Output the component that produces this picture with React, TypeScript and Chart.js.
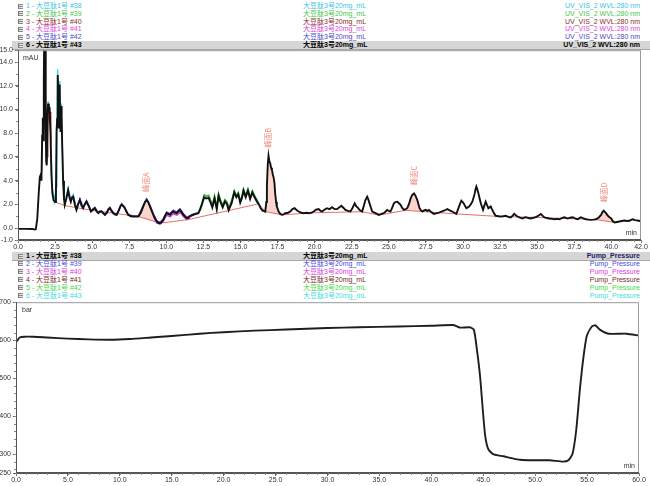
import React, { useEffect, useRef } from "react";
import { Chart, registerables } from "chart.js";

Chart.register(...registerables);

// ---------------- data ----------------
// UV trace of run #43 (black): [minutes, mAU]
const uvTrace: number[][] = [
  [0,-0.06],[0.5,-0.06],[1.0,-0.07],[1.12,-0.12],[1.2,-0.1],[1.3,0.8],[1.4,3.0],[1.47,4.3],[1.53,4.5],[1.58,4.0],
  [1.63,7.8],[1.67,9.3],[1.7,7.4],[1.74,12.5],[1.77,16.5],[1.84,16.5],[1.87,9.0],[1.9,5.6],[1.94,5.3],[1.99,9.6],
  [2.03,10.5],[2.08,9.7],[2.13,10.2],[2.19,8.0],[2.25,4.6],[2.32,2.9],[2.4,2.35],[2.5,2.2],[2.56,3.2],[2.6,8.2],
  [2.64,9.2],[2.68,12.9],[2.71,11.4],[2.74,8.4],[2.78,10.9],[2.81,12.1],[2.84,9.0],[2.87,8.1],[2.9,10.3],[2.94,9.4],
  [2.98,7.0],[3.04,4.0],[3.1,2.5],[3.15,1.96],[3.26,2.5],[3.38,3.2],[3.47,2.6],[3.56,2.23],[3.64,2.6],[3.72,2.65],
  [3.83,2.0],[3.94,1.54],[4.05,2.0],[4.17,2.37],[4.28,1.9],[4.39,1.68],[4.5,2.0],[4.62,2.23],[4.7,2.0],[4.78,1.82],
  [4.92,1.4],[5.05,1.55],[5.18,1.68],[5.3,1.4],[5.41,1.26],[5.52,1.4],[5.63,1.4],[5.75,1.25],[5.86,1.12],[6.0,1.3],
  [6.1,1.6],[6.19,1.68],[6.3,1.45],[6.42,1.26],[6.55,1.15],[6.65,1.12],[6.8,1.5],[6.92,1.9],[6.99,1.96],[7.1,1.85],
  [7.2,1.68],[7.3,1.4],[7.43,1.12],[7.6,1.0],[7.77,0.98],[7.95,0.98],[8.11,0.98],[8.28,1.3],[8.44,1.82],[8.56,2.2],
  [8.67,2.37],[8.78,2.2],[8.9,1.82],[9.0,1.5],[9.12,1.12],[9.25,0.8],[9.35,0.56],[9.46,0.45],[9.57,0.42],[9.68,0.5],
  [9.8,0.7],[9.9,1.0],[10.02,1.26],[10.13,1.2],[10.25,1.12],[10.36,1.3],[10.47,1.4],[10.58,1.3],[10.7,1.26],[10.8,1.4],
  [10.92,1.54],[11.03,1.35],[11.15,1.12],[11.27,0.95],[11.38,0.84],[11.48,0.88],[11.59,0.98],[11.7,1.05],[11.82,1.12],[12.0,1.2],
  [12.16,1.26],[12.28,1.55],[12.39,1.96],[12.55,2.6],[12.7,2.5],[12.85,2.55],[13.0,2.1],[13.1,1.75],[13.25,2.5],[13.4,1.6],
  [13.52,2.7],[13.65,2.2],[13.8,1.75],[13.95,2.25],[14.1,2.0],[14.2,1.5],[14.4,2.1],[14.58,3.0],[14.72,2.6],[14.85,2.85],
  [14.98,2.15],[15.1,2.55],[15.2,3.15],[15.35,2.6],[15.5,3.15],[15.65,2.45],[15.8,3.0],[15.95,2.6],[16.1,2.25],[16.22,2.05],
  [16.35,1.7],[16.47,1.5],[16.67,1.4],[16.74,2.2],[16.78,3.6],[16.84,5.4],[16.89,6.1],[16.95,5.6],[17.0,5.5],[17.06,5.1],
  [17.12,4.9],[17.18,4.5],[17.23,4.3],[17.29,3.8],[17.34,2.9],[17.4,2.2],[17.45,1.82],[17.57,1.4],[17.68,1.2],[17.8,1.12],
  [17.9,1.15],[18.02,1.26],[18.2,1.3],[18.36,1.4],[18.5,1.6],[18.65,1.68],[18.8,1.5],[18.92,1.4],[19.1,1.3],[19.26,1.26],
  [19.45,1.3],[19.6,1.26],[19.8,1.3],[19.93,1.4],[20.1,1.55],[20.27,1.6],[20.4,1.45],[20.5,1.4],[20.65,1.55],[20.83,1.68],
  [21.0,1.6],[21.17,1.77],[21.35,1.6],[21.51,1.6],[21.65,1.75],[21.8,1.88],[21.95,1.7],[22.07,1.54],[22.25,1.45],[22.41,1.4],
  [22.55,1.7],[22.7,2.09],[22.8,1.85],[22.93,1.68],[23.05,1.5],[23.2,1.4],[23.32,1.9],[23.42,2.37],[23.54,2.65],[23.62,2.4],
  [23.7,2.09],[23.8,1.7],[23.88,1.4],[24.1,1.26],[24.33,1.12],[24.5,1.2],[24.66,1.26],[24.78,1.4],[24.89,1.54],[25.0,1.45],
  [25.11,1.4],[25.22,1.7],[25.34,2.09],[25.45,2.2],[25.57,2.23],[25.68,2.1],[25.79,1.96],[25.9,1.7],[26.02,1.54],[26.13,1.6],
  [26.24,1.68],[26.35,2.0],[26.47,2.51],[26.58,2.8],[26.7,2.93],[26.81,2.7],[26.92,2.37],[27.0,2.0],[27.07,1.68],[27.17,1.5],
  [27.26,1.4],[27.38,1.5],[27.48,1.54],[27.6,1.45],[27.71,1.54],[27.85,1.35],[28.04,1.2],[28.2,1.25],[28.38,1.31],[28.55,1.4],
  [28.72,1.48],[28.85,1.55],[28.94,1.6],[29.1,1.5],[29.28,1.4],[29.42,1.3],[29.55,1.2],[29.64,1.5],[29.73,1.82],[29.82,2.1],
  [29.89,2.32],[29.98,2.2],[30.07,2.04],[30.15,1.85],[30.23,1.68],[30.32,1.75],[30.41,1.82],[30.52,2.0],[30.63,2.23],[30.72,2.6],
  [30.79,2.93],[30.85,3.3],[30.9,3.5],[30.97,3.25],[31.04,2.93],[31.12,2.5],[31.2,2.09],[31.28,1.8],[31.35,1.54],[31.44,1.9],
  [31.53,2.23],[31.62,1.95],[31.71,1.68],[31.79,1.75],[31.87,1.82],[31.95,1.6],[32.03,1.4],[32.12,1.2],[32.21,1.04],[32.4,1.0],
  [32.55,0.98],[32.7,1.0],[32.88,1.04],[33.05,0.95],[33.22,0.9],[33.35,1.05],[33.45,1.2],[33.56,1.08],[33.67,0.98],[33.85,0.88],
  [34.01,0.81],[34.12,0.88],[34.24,0.92],[34.4,0.85],[34.57,0.81],[34.75,0.88],[34.91,0.92],[35.08,1.05],[35.25,1.2],[35.36,1.05],
  [35.47,0.92],[35.65,0.85],[35.81,0.81],[36.0,0.78],[36.15,0.75],[36.32,0.78],[36.49,0.75],[36.66,0.85],[36.83,0.92],[36.95,0.86],
  [37.05,0.81],[37.22,0.88],[37.39,0.92],[37.55,0.82],[37.73,0.75],[37.85,0.85],[37.95,0.92],[38.12,0.82],[38.29,0.75],[38.45,0.72],
  [38.63,0.7],[38.8,0.72],[38.97,0.75],[39.15,0.9],[39.31,1.12],[39.4,1.35],[39.49,1.48],[39.56,1.38],[39.64,1.26],[39.73,1.1],
  [39.82,0.98],[39.9,0.9],[39.98,0.84],[40.1,0.6],[40.21,0.48],[40.38,0.52],[40.54,0.56],[40.7,0.6],[40.88,0.64],[41.05,0.6],
  [41.22,0.62],[41.33,0.7],[41.44,0.75],[41.6,0.68],[41.78,0.64],[41.92,0.6],[42.0,0.58]
];

// overlaid runs that peek out from under the black trace
const uvRun38: number[][] = [
  [1.95,5.6],[2.03,10.7],[2.1,10.0],[2.2,8.2],[2.3,3.5],[2.45,2.3],[2.58,3.5],[2.62,9.0],[2.67,13.4],[2.71,11.8],
  [2.76,9.0],[2.81,12.4],[2.86,9.2],[2.92,10.5],[2.98,7.2],[3.06,3.6],[3.15,2.1],[3.38,3.35],[3.56,2.35],[3.72,2.75],[3.94,1.65]
];
const uvRun40: number[][] = [
  [1.5,4.3],[1.6,4.8],[1.66,8.8],[1.72,8.0],[1.78,12.0],[1.85,10.8],[1.9,6.0],[1.96,6.0],[2.02,10.2],[2.1,9.2],[2.16,9.8],[2.22,7.2]
];
const uvRun42: number[][] = [
  [3.38,3.1],[3.56,2.3],[3.72,2.75],[3.94,1.6],[4.17,2.45],[4.39,1.75],[4.62,2.3],[4.78,1.9],[4.92,1.45],[5.18,1.75],
  [5.41,1.3],[5.63,1.45],[5.86,1.15],[6.19,1.75],[6.42,1.3],[6.65,1.15],[6.99,2.05],[7.2,1.75],[7.43,1.15],[7.77,1.0],
  [8.11,1.0],[8.44,1.9],[8.67,2.45],[8.9,1.9],[9.12,1.2],[9.35,0.62],[9.57,0.48],[9.8,0.78],[10.02,1.35],[10.25,1.2],
  [10.47,1.5],[10.7,1.35],[10.92,1.62],[11.15,1.2],[11.38,0.9],[11.59,1.05],[11.82,1.2],[12.16,1.3]
];
const uvRun41: number[][] = [
  [9.12,1.0],[9.35,0.45],[9.57,0.35],[9.8,0.6],[10.02,1.1],[10.25,0.95],[10.47,1.22],[10.7,1.1],[10.92,1.35],[11.15,0.98],
  [11.38,0.72],[11.59,0.85]
];
const uvRun39: number[][] = [
  [12.16,1.3],[12.39,2.05],[12.55,2.8],[12.7,2.7],[12.85,2.75],[13.0,2.3],[13.1,1.9],[13.25,2.7],[13.4,1.7],[13.52,2.9],
  [13.65,2.4],[13.8,1.9],[13.95,2.4],[14.1,2.2],[14.2,1.65],[14.4,2.3],[14.58,3.15],[14.72,2.75],[14.85,3.0],[14.98,2.3],
  [15.1,2.7],[15.2,3.3],[15.35,2.75],[15.5,3.3],[15.65,2.6],[15.8,3.15],[15.95,2.75],[16.1,2.4],[16.22,2.1]
];

// integration baseline (red)
const uvBaseline: number[][] = [
  [2.5,2.2],[3.15,1.9],[5.0,1.5],[8.11,0.98],[9.57,0.42],[11.48,0.72],[16.22,2.05],[16.67,1.4],[17.8,1.12],[20.0,1.3],
  [23.2,1.38],[24.33,1.1],[26.13,1.5],[27.26,1.4],[29.55,1.2],[32.21,1.0],[35.47,0.88],[39.0,0.72],[40.21,0.48]
];

const peakNames = ["峰面A", "峰面B", "峰面C", "峰面D"];
const peakStarts = [8.11, 16.67, 26.13, 39.0];
const peakEnds = [9.57, 17.8, 27.26, 40.21];

const uvXTicks = [0,2.5,5,7.5,10,12.5,15,17.5,20,22.5,25,27.5,30,32.5,35,37.5,40,42];
const uvYTicks = [-1,0,2,4,6,8,10,12,14,15];

// pump pressure of run #38: [minutes, bar]
const pressureTrace: number[][] = [
  [0,595],[0.15,600],[0.35,607],[0.8,609],[1.7,609],[3,607],[5,604],[7,602],[9,601],[11,603],
  [13,607],[15,611],[17.7,617],[20,621],[23,625],[26,628],[30,632],[33,634],[36.8,636],[40,638],
  [42.1,640],[42.5,636],[42.8,633],[43.7,634],[44.1,627],[44.4,573],[44.7,503],[44.96,415],[45.2,345],[45.5,312],
  [46.0,299],[46.95,294],[47.6,290],[48.55,285],[49.8,283.5],[51.4,283.5],[52.7,280],[53.2,283.5],[53.6,301],[53.95,362],
  [54.3,468],[54.65,555],[54.98,612],[55.46,636],[55.8,639],[56.26,627],[57.06,617],[58.8,617],[60,612]
];
const pressureXTicks = [0,5,10,15,20,25,30,35,40,45,50,55,60];
const pressureYTicks = [250,300,400,500,600,700];

const runLabels = ["1 - 大豆肽1号 #38","2 - 大豆肽1号 #39","3 - 大豆肽1号 #40","4 - 大豆肽1号 #41","5 - 大豆肽1号 #42","6 - 大豆肽1号 #43"];
const sampleName = "大豆肽3号20mg_mL";
const uvChannel = "UV_VIS_2 WVL:280 nm";
const pressureChannel = "Pump_Pressure";

// ---------------- styles ----------------
const FONT = '"Liberation Sans", Arial, "Noto Sans CJK SC", sans-serif';
const topLegendColors = ["#3cc4dc", "#44c844", "#8a2c2c", "#dc46dc", "#4a4ac8", "#000000"];
const bottomLegendColors = ["#000000", "#4a4ae0", "#dc3cdc", "#7a2a2a", "#4ad84a", "#40dce0"];
const bottomChannelColors = ["#1c1c66", "#4a4ae0", "#dc3cdc", "#7a2a2a", "#4ad84a", "#40dce0"];

const toXY = (arr: number[][]) => arr.map((p) => ({ x: p[0], y: p[1] }));

function drawFrameAndMinor(chart: any, xStep: number, xMax: number, yStep: number, yMin: number, yMax: number) {
  const { ctx, chartArea: a, scales } = chart;
  const x = scales.x, y = scales.y;
  ctx.save();
  ctx.strokeStyle = "#9a9a9a";
  ctx.lineWidth = 1;
  ctx.strokeRect(a.left + 0.5, a.top + 0.5, a.right - a.left - 1, a.bottom - a.top - 1);
  ctx.strokeStyle = "#555";
  ctx.beginPath();
  ctx.moveTo(a.left + 0.5, a.top); ctx.lineTo(a.left + 0.5, a.bottom);
  ctx.moveTo(a.left, a.bottom - 0.5); ctx.lineTo(a.right, a.bottom - 0.5);
  ctx.stroke();
  ctx.strokeStyle = "#888";
  ctx.beginPath();
  for (let v = 0; v <= xMax + 1e-9; v += xStep) {
    const px = Math.round(x.getPixelForValue(v)) + 0.5;
    ctx.moveTo(px, a.bottom); ctx.lineTo(px, a.bottom + 2);
  }
  for (let v = yMin; v <= yMax + 1e-9; v += yStep) {
    const py = Math.round(y.getPixelForValue(v)) + 0.5;
    ctx.moveTo(a.left - 2, py); ctx.lineTo(a.left, py);
  }
  ctx.stroke();
  ctx.restore();
}

function axisCommon(min: number, max: number, tickValues: number[], fmt: (v: number) => string, isY: boolean, size: number) {
  return {
    type: "linear" as const,
    min,
    max,
    afterBuildTicks: (s: any) => { s.ticks = tickValues.map((v) => ({ value: v })); },
    afterFit: (s: any) => { if (isY) s.width = size; else s.height = size; },
    ticks: {
      autoSkip: false,
      maxRotation: 0,
      padding: isY ? 2 : 0,
      color: "#333",
      font: { size: 7, family: FONT },
      callback: (v: any) => fmt(Number(v)),
    },
    grid: { drawOnChartArea: false, tickLength: 3, color: "#666" },
    border: { color: "#555" },
  };
}

function buildUvConfig(): any {
  const peakPolys = peakStarts.map((s, i) => {
    const e = peakEnds[i];
    const b0 = uvBaseline.find((p) => p[0] === s)!;
    const b1 = uvBaseline.find((p) => p[0] === e)!;
    const inside = uvTrace.filter((p) => p[0] > s && p[0] < e);
    return toXY([b0, ...inside, b1]);
  });
  const peakApex = peakStarts.map((s, i) => {
    const inside = uvTrace.filter((p) => p[0] >= s && p[0] <= peakEnds[i]);
    return inside.reduce((m, p) => (p[1] > m[1] ? p : m), inside[0]);
  });

  const line = (data: number[][], color: string, width: number) => ({
    data: toXY(data), borderColor: color, borderWidth: width, pointRadius: 0, fill: false, tension: 0,
  });

  const datasets: any[] = [
    line(uvTrace, "#111111", 1.9),
    line(uvRun40, "#b04040", 1.1),
    line(uvRun38, "#3cd0e8", 1.4),
    line(uvRun42, "#5a3cc8", 1.6),
    line(uvRun41, "#c840c8", 1.6),
    line(uvRun39, "#2ea82e", 1.6),
    line(uvBaseline, "#e0605a", 0.9),
    ...peakPolys.map((poly) => ({
      data: poly, fill: "shape", backgroundColor: "rgba(240,150,130,0.4)",
      borderColor: "rgba(0,0,0,0)", borderWidth: 1, pointRadius: 0, tension: 0,
    })),
  ];

  const decor = {
    id: "uvDecor",
    afterDatasetsDraw(chart: any) {
      const { ctx, chartArea: a, scales } = chart;
      ctx.save();
      ctx.fillStyle = "#f08a7a";
      ctx.font = `7.5px "Noto Sans CJK SC", ${FONT}`;
      ctx.textAlign = "left";
      ctx.textBaseline = "middle";
      peakApex.forEach((p, i) => {
        const px = scales.x.getPixelForValue(p[0]);
        const py = scales.y.getPixelForValue(p[1]);
        ctx.save();
        ctx.translate(px, py - 8);
        ctx.rotate(-Math.PI / 2);
        ctx.fillText(peakNames[i], 0, 0);
        ctx.restore();
      });
      ctx.fillStyle = "#333";
      ctx.font = `7px ${FONT}`;
      ctx.textBaseline = "top";
      ctx.fillText("mAU", a.left + 5, a.top + 4);
      ctx.textAlign = "right";
      ctx.textBaseline = "bottom";
      ctx.fillText("min", a.right - 4, a.bottom - 3);
      ctx.restore();
    },
    afterDraw(chart: any) {
      drawFrameAndMinor(chart, 0.5, 42, 1, -1, 15);
    },
  };

  return {
    type: "line",
    data: { datasets },
    plugins: [decor],
    options: {
      responsive: false,
      animation: false,
      devicePixelRatio: 1,
      layout: { padding: { top: 6, right: 9, left: 0, bottom: 0 } },
      plugins: { legend: { display: false }, tooltip: { enabled: false } },
      elements: { point: { radius: 0 } },
      scales: {
        x: axisCommon(0, 42, uvXTicks, (v) => v.toFixed(1), false, 12),
        y: axisCommon(-1, 15, uvYTicks, (v) => v.toFixed(1), true, 18),
      },
    },
  };
}

function buildPressureConfig(): any {
  const decor = {
    id: "prDecor",
    afterDatasetsDraw(chart: any) {
      const { ctx, chartArea: a } = chart;
      ctx.save();
      ctx.fillStyle = "#333";
      ctx.font = `7px ${FONT}`;
      ctx.textAlign = "left";
      ctx.textBaseline = "top";
      ctx.fillText("bar", a.left + 6, a.top + 4);
      ctx.textAlign = "right";
      ctx.textBaseline = "bottom";
      ctx.fillText("min", a.right - 4, a.bottom - 3);
      ctx.restore();
    },
    afterDraw(chart: any) {
      drawFrameAndMinor(chart, 1, 60, 20, 260, 700);
    },
  };
  return {
    type: "line",
    data: {
      datasets: [
        { data: toXY(pressureTrace), borderColor: "#1e1e1e", borderWidth: 1.9, pointRadius: 0, fill: false, tension: 0.2 },
      ],
    },
    plugins: [decor],
    options: {
      responsive: false,
      animation: false,
      devicePixelRatio: 1,
      layout: { padding: { top: 6, right: 11, left: 0, bottom: 0 } },
      plugins: { legend: { display: false }, tooltip: { enabled: false } },
      scales: {
        x: axisCommon(0, 60, pressureXTicks, (v) => v.toFixed(1), false, 12),
        y: axisCommon(250, 700, pressureYTicks, (v) => String(Math.round(v)), true, 16),
      },
    },
  };
}

function Icon() {
  return (
    <span
      style={{
        position: "absolute", left: 18, top: 1.5, width: 4, height: 5,
        background: "repeating-linear-gradient(#8a8a8a 0 1px, #e2e2e2 1px 2px)",
        borderLeft: "1px solid #777",
      }}
    />
  );
}

function LegendRows(props: { firstY: number; step: number; colors: string[]; channel: string; channelColors: string[]; boldIndex: number }) {
  const { firstY, step, colors, channel, channelColors, boldIndex } = props;
  return (
    <>
      {runLabels.map((label, i) => {
        const bold = i === boldIndex;
        const top = firstY + i * step - 4;
        return (
          <div
            key={i}
            style={{
              position: "absolute", left: 0, top, width: 650, height: 8,
              font: `${bold ? "bold " : ""}7px ${FONT}`, lineHeight: "8px", whiteSpace: "nowrap",
            }}
          >
            {bold && (
              <div style={{ position: "absolute", left: 12, top: -0.5, width: 638, height: 8, background: "#d6d6d6", borderBottom: "1px solid #a8a8a8" }} />
            )}
            <Icon />
            <span style={{ position: "absolute", left: 26, top: 0, color: colors[i] }}>{label}</span>
            <span style={{ position: "absolute", left: 303, top: 0, color: colors[i] }}>{sampleName}</span>
            <span style={{ position: "absolute", right: 10, top: 0, color: channelColors[i] }}>{channel}</span>
          </div>
        );
      })}
    </>
  );
}

export default function App() {
  const uvRef = useRef<HTMLCanvasElement>(null);
  const prRef = useRef<HTMLCanvasElement>(null);

  useEffect(() => {
    const c1 = new Chart(uvRef.current as HTMLCanvasElement, buildUvConfig());
    const c2 = new Chart(prRef.current as HTMLCanvasElement, buildPressureConfig());
    return () => {
      c1.destroy();
      c2.destroy();
    };
  }, []);

  return (
    <div style={{ position: "absolute", left: 0, top: 0, width: 650, height: 486, background: "#fff", overflow: "hidden" }}>
      <LegendRows firstY={6} step={7.8} colors={topLegendColors} channel={uvChannel} channelColors={topLegendColors} boldIndex={5} />
      <LegendRows firstY={256} step={7.9} colors={bottomLegendColors} channel={pressureChannel} channelColors={bottomChannelColors} boldIndex={0} />
      <canvas ref={uvRef} width={650} height={208} style={{ position: "absolute", left: 0, top: 44, width: 650, height: 208 }} />
      <canvas ref={prRef} width={650} height={189} style={{ position: "absolute", left: 0, top: 296, width: 650, height: 189 }} />
    </div>
  );
}
